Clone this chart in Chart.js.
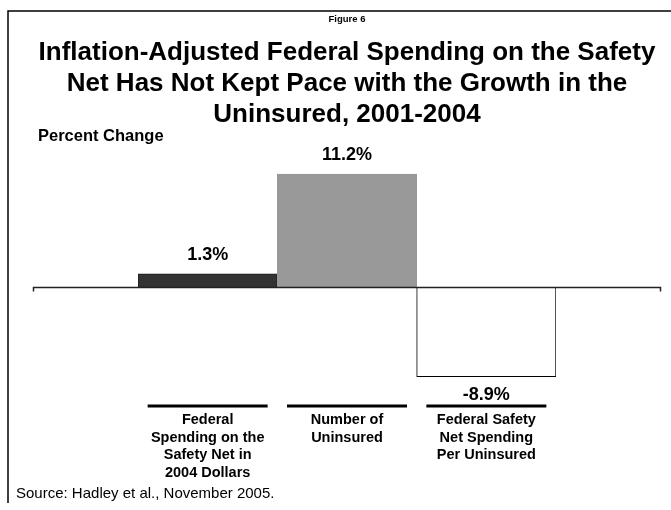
<!DOCTYPE html>
<html>
<head>
<meta charset="utf-8">
<script src="https://cdn.jsdelivr.net/npm/chart.js@4/dist/chart.umd.min.js"></script>
<style>
  html, body { margin: 0; padding: 0; background: #ffffff; }
  canvas { display: block; }
</style>
</head>
<body>
<canvas id="chart" width="671" height="510"></canvas>
<script>
// Category labels (multi-line) shown under each bar
const categories = [
  ['Federal', 'Spending on the', 'Safety Net in', '2004 Dollars'],
  ['Number of', 'Uninsured'],
  ['Federal Safety', 'Net Spending', 'Per Uninsured']
];
// Percent change, 2001-2004
const percentChange = [1.3, 11.2, -8.9];
const valueLabels = ['1.3%', '11.2%', '-8.9%'];
const barFill = ['#333333', '#999999', '#ffffff'];
const barEdge = ['#1a1a1a', '#999999', '#000000'];

const figureLabel = 'Figure 6';
const titleLines = [
  'Inflation-Adjusted Federal Spending on the Safety',
  'Net Has Not Kept Pace with the Growth in the',
  'Uninsured, 2001-2004'
];
const axisTitle = 'Percent Change';
const sourceNote = 'Source: Hadley et al., November 2005.';

const FONT = "'Liberation Sans', Arial, Helvetica, sans-serif";

// Frame, headings, labels and source line
const decorations = {
  id: 'decorations',
  beforeDraw(chart) {
    const ctx = chart.ctx;
    ctx.save();
    ctx.fillStyle = '#ffffff';
    ctx.fillRect(0, 0, chart.width, chart.height);
    // frame: top and left rules
    ctx.strokeStyle = '#000000';
    ctx.lineWidth = 1.5;
    ctx.beginPath();
    ctx.moveTo(8, chart.height - 7);
    ctx.lineTo(8, 11);
    ctx.lineTo(chart.width, 11);
    ctx.stroke();

    ctx.fillStyle = '#000000';
    ctx.textAlign = 'center';
    ctx.textBaseline = 'middle';
    const cx = 347;
    ctx.font = 'bold 9.5px ' + FONT;
    ctx.fillText(figureLabel, cx, 19);
    ctx.font = 'bold 26px ' + FONT;
    titleLines.forEach((t, i) => ctx.fillText(t, cx, 53 + i * 31));

    ctx.textAlign = 'left';
    ctx.font = 'bold 16.5px ' + FONT;
    ctx.fillText(axisTitle, 38, 136);

    ctx.font = '15px ' + FONT;
    ctx.fillText(sourceNote, 16, 494);
    ctx.restore();
  },
  afterDatasetsDraw(chart) {
    const ctx = chart.ctx;
    const x = chart.scales.x;
    const y = chart.scales.y;
    const area = chart.chartArea;
    const step = x.getPixelForValue(1) - x.getPixelForValue(0);
    const y0 = Math.round(y.getPixelForValue(0)) + 0.5;
    const left = area.left - step * 0.75;
    const right = area.right + step * 0.75;
    ctx.save();
    // zero baseline with end ticks
    ctx.strokeStyle = '#222222';
    ctx.lineWidth = 1.5;
    ctx.beginPath();
    ctx.moveTo(left, y0 + 4);
    ctx.lineTo(left, y0);
    ctx.lineTo(right, y0);
    ctx.lineTo(right, y0 + 4);
    ctx.stroke();

    // value labels on each bar
    const meta = chart.getDatasetMeta(0);
    ctx.fillStyle = '#000000';
    ctx.textAlign = 'center';
    ctx.textBaseline = 'middle';
    ctx.font = 'bold 18px ' + FONT;
    meta.data.forEach((bar, i) => {
      const v = percentChange[i];
      const ly = v >= 0 ? bar.y - 19 : bar.y + 18;
      ctx.fillText(valueLabels[i], bar.x, ly);
    });

    // category labels with a rule above each
    const ry = area.bottom + 3;
    ctx.strokeStyle = '#000000';
    ctx.lineWidth = 3;
    ctx.font = 'bold 14.5px ' + FONT;
    categories.forEach((lines, i) => {
      const px = x.getPixelForValue(i);
      ctx.beginPath();
      ctx.moveTo(px - 60, ry);
      ctx.lineTo(px + 60, ry);
      ctx.stroke();
      lines.forEach((t, j) => ctx.fillText(t, px, ry + 14 + j * 17.5));
    });
    ctx.restore();
  }
};

new Chart(document.getElementById('chart'), {
  type: 'bar',
  data: {
    labels: categories,
    datasets: [{
      data: percentChange,
      backgroundColor: barFill,
      borderColor: barEdge,
      borderWidth: 1,
      categoryPercentage: 1,
      barPercentage: 1
    }]
  },
  options: {
    responsive: false,
    animation: false,
    devicePixelRatio: 1,
    layout: { padding: { left: 138, right: 115, top: 166, bottom: 107 } },
    scales: {
      x: { display: false },
      y: { display: false, min: -11.5, max: 12 }
    },
    plugins: {
      legend: { display: false },
      tooltip: { enabled: false },
      title: { display: false }
    }
  },
  plugins: [decorations]
});
</script>
</body>
</html>
